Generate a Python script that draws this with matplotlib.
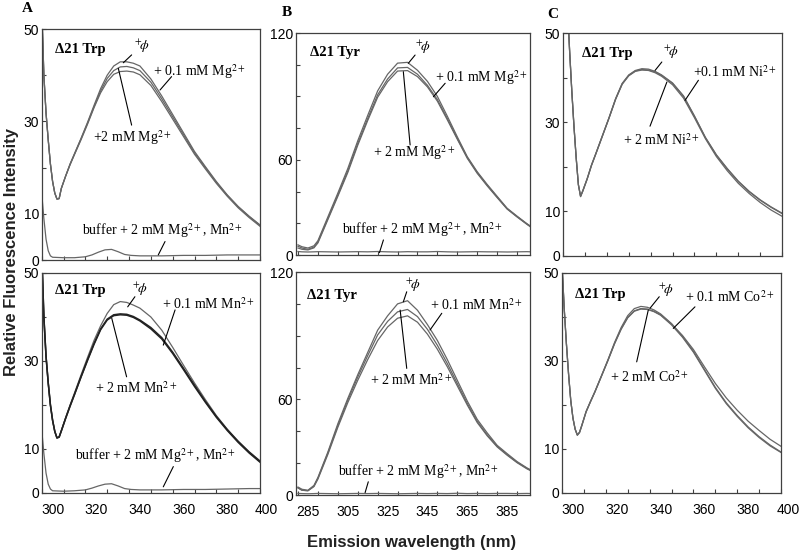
import numpy as np
import matplotlib
matplotlib.use("Agg")
import matplotlib.pyplot as plt

plt.rcParams['mathtext.fontset'] = 'stix'
plt.rcParams['font.family'] = ['Liberation Sans', 'DejaVu Sans']

# ---------------- data ----------------
# Trp panels (A, C): wavelength grid, nm
wl_trp = [295, 296, 297, 298, 299, 300, 301, 302, 303, 304, 306, 308, 310, 313, 316, 319,
          322, 325, 328, 331, 334, 337, 340, 345, 350, 355, 360, 365, 370, 375, 380, 385, 390, 395]

# A top: Trp + Mg2+
a1_phi = [55, 40, 31.8, 26, 20.8, 17, 14.5, 13.2, 13.3, 15.5, 18.2, 20.8, 23, 26.3, 29.8, 33.5,
          37.1, 40, 42, 42.9, 42.9, 42.6, 42, 39.2, 35.5, 31.5, 27.5, 23.5, 20.2, 17, 14.1, 11.6, 9.5, 7.6]
a1_mg01 = [55, 40, 31.8, 26, 20.8, 17, 14.5, 13.2, 13.3, 15.5, 18.2, 20.7, 22.9, 26.2, 29.6, 33.2,
           36.6, 39.3, 41, 41.8, 41.9, 41.6, 41, 38.5, 34.9, 31, 27.1, 23.2, 20, 16.8, 14, 11.5, 9.4, 7.5]
a1_mg2 = [55, 40, 31.8, 26, 20.8, 17, 14.5, 13.2, 13.3, 15.5, 18.2, 20.6, 22.8, 26, 29.4, 33,
          36.2, 38.6, 40.2, 40.8, 40.9, 40.7, 40.1, 37.8, 34.3, 30.5, 26.7, 22.9, 19.7, 16.6, 13.8, 11.3, 9.2, 7.3]

# A bottom: Trp + Mn2+
a2_phi = [55, 40, 31, 25, 20, 16.5, 14, 12.6, 12.8, 14.2, 17.2, 20, 22.7, 26.8, 30.8, 34.7,
          38, 40.8, 42.8, 43.5, 43.3, 42.7, 42, 40, 37, 33.1, 29, 25, 21.2, 17.6, 14.5, 11.8, 9.4, 7.3]
a2_mn01 = [55, 40, 31, 25, 20, 16.5, 14, 12.5, 12.7, 14.1, 17, 19.8, 22.4, 26.4, 30.3, 34,
           37.3, 39.5, 40.5, 40.7, 40.6, 40.1, 39.3, 37.6, 35.3, 32, 28.3, 24.5, 20.8, 17.4, 14.4, 11.7, 9.3, 7.2]
a2_mn2 = [55, 40, 31, 25, 20, 16.5, 14, 12.5, 12.7, 14.1, 17, 19.7, 22.3, 26.3, 30.1, 33.8,
          37.1, 39.3, 40.3, 40.5, 40.4, 39.9, 39.1, 37.3, 35, 31.7, 28, 24.2, 20.6, 17.2, 14.2, 11.5, 9.1, 7.0]

# buffer traces in A
wl_buf = [295, 296, 297, 298, 299, 300, 305, 310, 315, 318, 321, 324, 327, 330, 333, 336,
          340, 350, 360, 370, 380, 390, 395]
a1_buf = [14.5, 9, 4.5, 2, 0.9, 0.6, 0.5, 0.5, 0.7, 1.1, 1.7, 2.2, 2.3, 1.8, 1.2, 1.0,
          0.9, 0.9, 1.0, 1.0, 1.1, 1.1, 1.1]
a2_buf = [14.4, 9, 4.5, 2, 0.9, 0.5, 0.4, 0.5, 0.7, 1.1, 1.6, 2.0, 2.1, 1.6, 1.0, 0.8,
          0.7, 0.7, 0.8, 0.8, 0.9, 1.0, 1.0]

# C top: Trp + Ni2+
c1_phi = [80, 68, 56, 46, 37, 29, 22, 16, 13.4, 14.6, 17.3, 20.4, 23, 27, 31, 35.3,
          38.7, 40.6, 41.6, 42, 41.9, 41.4, 40.6, 38.8, 35.9, 31.4, 26.6, 22.7, 19.6, 16.8, 14.5, 12.6, 11.0, 9.6]
c1_ni01 = [80, 68, 56, 46, 37, 29, 22, 16, 13.4, 14.6, 17.3, 20.4, 23, 27, 31, 35.2,
           38.6, 40.5, 41.5, 41.8, 41.7, 41.3, 40.5, 38.7, 35.8, 31.3, 26.5, 22.6, 19.5, 16.7, 14.4, 12.5, 10.9, 9.5]
c1_ni2 = [80, 68, 56, 46, 37, 29, 22, 16, 13.3, 14.5, 17.2, 20.3, 22.9, 26.9, 30.9, 35.1,
          38.5, 40.4, 41.4, 41.7, 41.6, 41.1, 40.3, 38.4, 35.4, 31, 26.3, 22.3, 19.1, 16.3, 14, 12, 10.3, 8.9]

# C bottom: Trp + Co2+
c2_phi = [52, 42, 34, 27, 21, 17, 14.5, 13.2, 13.8, 15.3, 18.5, 20.8, 23, 26.6, 30.3, 34.2,
          37.6, 40.3, 41.9, 42.4, 42.2, 41.6, 40.7, 38.5, 35.6, 32.2, 28.1, 24, 20.5, 17.6, 15, 12.8, 10.9, 9.3]
c2_co01 = [52, 42, 34, 27, 21, 17, 14.5, 13.2, 13.8, 15.3, 18.5, 20.8, 23, 26.6, 30.2, 34,
           37.3, 39.9, 41.4, 41.9, 41.8, 41.3, 40.5, 38.4, 35.8, 32.6, 28.7, 24.9, 21.6, 18.8, 16.3, 14.2, 12.2, 10.6]
c2_co2 = [52, 42, 34, 27, 21, 17, 14.5, 13.1, 13.7, 15.2, 18.4, 20.7, 22.9, 26.5, 30.1, 33.9,
          37.2, 39.8, 41.3, 41.8, 41.7, 41.2, 40.4, 38.2, 35.4, 32, 27.9, 23.8, 20.3, 17.4, 14.8, 12.6, 10.7, 9.2]

# B panels (Tyr)
wl_tyr = [280, 282, 285, 288, 290, 295, 300, 305, 310, 315, 320, 325, 330, 335, 340,
          345, 350, 355, 360, 365, 370, 375, 380, 385, 390, 395, 397]
b1_phi = [6.4, 5.2, 4.4, 5.8, 9, 24, 39, 54.5, 72, 88, 103.5, 114, 121, 121.5, 116.5,
          109.5, 100, 87.5, 74.5, 62, 52.5, 44.5, 37, 29.5, 24.5, 19.7, 18]
b1_mg01 = [5.5, 4.4, 3.6, 5, 8.2, 23, 37.8, 53, 70.3, 86, 101, 111, 118, 118.3, 114,
           107, 98, 86, 73.5, 61.5, 52, 44, 36.5, 29.2, 24.2, 19.5, 17.8]
b1_mg2 = [4.4, 3.6, 3.2, 4.5, 7.6, 22.3, 37, 52, 69.2, 84.8, 99.5, 109.3, 116, 116.3, 112.5,
          106, 97, 85.2, 73, 61, 51.5, 43.6, 36.2, 29, 24, 19.3, 17.5]
b1_buf = [2.2, 2.0, 1.9, 2.0, 2.1, 2.0, 1.9, 2.0, 2.1, 2.0, 2.2, 2.0, 1.9, 2.1, 2.0,
          2.0, 2.2, 2.0, 1.9, 2.0, 2.1, 2.0, 2.0, 1.9, 2.0, 2.1, 2.0]
b2_phi = [5, 3.6, 3, 6, 11, 27, 44.7, 60.6, 75.5, 89.5, 103.5, 112.5, 120, 122, 116,
          107, 97, 85, 72, 59, 47.5, 39, 31.2, 26, 21, 17, 15.7]
b2_mn01 = [4.5, 3, 2.7, 5.5, 10.5, 26.3, 43.5, 59.5, 74, 87.5, 100.5, 109, 115, 116.5, 112,
           104, 94, 82.5, 70, 57.5, 46.3, 37.8, 30.6, 25.4, 20.6, 16.7, 15.4]
b2_mn2 = [4.5, 3, 2.7, 5.3, 10, 25.5, 42.5, 58, 72, 85, 97, 105.5, 111, 112.5, 108.5,
          101, 91.5, 80.5, 68.5, 56.5, 45.5, 37.2, 30.2, 25, 20.3, 16.4, 15.2]
b2_buf = [1.0, 0.9, 0.8, 0.9, 1.0, 0.9, 0.8, 0.9, 1.0, 0.9, 1.0, 0.9, 0.8, 0.9, 1.0,
          0.9, 1.0, 0.9, 1.1, 0.9, 1.0, 0.9, 1.0, 1.0, 0.9, 1.0, 0.9]

GRAY = '#666666'
DARK = '#222222'
FRAME = '#404040'
SERIF = 'Liberation Serif'
LW = 0.9

fig = plt.figure(figsize=(8, 5.51), dpi=100)


def setup(ax, xlim, ylim, yt, ytl, yminor, xminor, xlabels):
    ax.set_xlim(*xlim)
    ax.set_ylim(*ylim)
    ax.set_yticks(yt, ytl)
    ax.set_yticks(yminor, minor=True)
    ax.set_xticks(xminor, [''] * len(xminor))
    for s in ax.spines.values():
        s.set_color(FRAME)
        s.set_linewidth(0.9)
    ax.tick_params(which='both', direction='in', length=3, width=0.8, color=FRAME,
                   labelsize=10, pad=2)
    for i, v in enumerate(xlabels):
        # last label of the 400-ending axes sits right at the figure edge
        dx = -3 if (v == 400) else 0
        ax.annotate(str(v), (v, 0), xycoords=ax.get_xaxis_transform(), xytext=(dx, -7),
                    textcoords='offset points', ha='center', va='top', fontsize=10,
                    annotation_clip=False)


def label(ax, txt, x, y, bold=False, size=10):
    ax.text(x, y, txt, family=SERIF, fontsize=size, ha='left', va='center',
            fontweight='bold' if bold else 'normal')


def leader(ax, p0, p1):
    ax.annotate('', xy=p1, xytext=p0,
                arrowprops=dict(arrowstyle='-', lw=0.8, color='black', shrinkA=0, shrinkB=0))


trp_ticks = [0, 10, 30, 50]
trp_minor = [20, 40]
trp_xminor = list(range(295, 396, 10))
trp_xlab = [300, 320, 340, 360, 380, 400]
tyr_xminor = list(range(280, 397, 10))
tyr_xlab = [285, 305, 325, 345, 365, 385]
tyr_minor = list(range(0, 141, 20))

PHI = r'${}^{+}\!\phi$'

# ---------------- panel A ----------------
axA1 = fig.add_axes([0.0521, 0.5281, 0.2729, 0.4192])
for y in (a1_phi, a1_mg01, a1_mg2):
    axA1.plot(wl_trp, y, color=GRAY, lw=LW)
axA1.plot(wl_buf, a1_buf, color=GRAY, lw=LW)
setup(axA1, (295, 395), (0, 50), trp_ticks, ['0', '10', '30', '50'], trp_minor, trp_xminor, [])
label(axA1, 'Δ21 Trp', 301.1, 45.5, bold=True, size=10.5)
label(axA1, PHI, 337.2, 46.3)
leader(axA1, (336.2, 44.4), (332.4, 42.7))
label(axA1, r'+ 0.1 mM Mg$^{2+}$', 346, 40.7)
leader(axA1, (354.5, 39.7), (349.2, 36.8))
label(axA1, r'+2 mM Mg$^{2+}$', 318.5, 26.4)
leader(axA1, (336.2, 29.2), (330.1, 41.5))
label(axA1, r'buffer + 2 mM Mg$^{2+}$, Mn$^{2+}$', 313.5, 6.3)
leader(axA1, (351.5, 4.0), (348.4, 1.1))

axA2 = fig.add_axes([0.0521, 0.1053, 0.2729, 0.3993])
axA2.plot(wl_trp, a2_phi, color=GRAY, lw=LW)
axA2.plot(wl_trp, a2_mn01, color=DARK, lw=1.1)
axA2.plot(wl_trp, a2_mn2, color=DARK, lw=1.1)
axA2.plot(wl_buf, a2_buf, color=GRAY, lw=LW)
setup(axA2, (295, 395), (0, 50), trp_ticks, ['0', '10', '30', '50'], trp_minor, trp_xminor, trp_xlab)
label(axA2, 'Δ21 Trp', 301.1, 46.1, bold=True, size=10.5)
label(axA2, PHI, 336.4, 46.3)
leader(axA2, (337.7, 44.6), (334.4, 42.3))
label(axA2, r'+ 0.1 mM Mn$^{2+}$', 350.1, 43)
leader(axA2, (356.1, 41.6), (350.7, 33.6))
label(axA2, r'+ 2 mM Mn$^{2+}$', 319.4, 23.9)
leader(axA2, (333.9, 26.4), (327.1, 39.7))
label(axA2, r'buffer + 2 mM Mg$^{2+}$, Mn$^{2+}$', 310.3, 8.6)
leader(axA2, (355.3, 6.0), (350.7, 1.4))

# ---------------- panel B ----------------
axB1 = fig.add_axes([0.37, 0.5372, 0.2925, 0.4029])
for y in (b1_phi, b1_mg01, b1_mg2):
    axB1.plot(wl_tyr, y, color=GRAY, lw=LW)
axB1.plot(wl_tyr, b1_buf, color=GRAY, lw=LW)
setup(axB1, (279, 396.5), (0, 140), [0, 60, 140], ['0', '60', '120'], tyr_minor, tyr_xminor, [])
label(axB1, 'Δ21 Tyr', 286, 127.4, bold=True, size=10.5)
label(axB1, PHI, 338.8, 131)
leader(axB1, (338.8, 126.1), (335.4, 120.9))
label(axB1, r'+ 0.1 mM Mg$^{2+}$', 348.8, 111.6)
leader(axB1, (353.9, 108.3), (348, 99.8))
label(axB1, r'+ 2 mM Mg$^{2+}$', 317.7, 64.3)
leader(axB1, (336.3, 69.4), (332.9, 115.6))
label(axB1, r'buffer + 2 mM Mg$^{2+}$, Mn$^{2+}$', 302.1, 15.8)
leader(axB1, (322.9, 9.5), (320.9, 1.5))

axB2 = fig.add_axes([0.37, 0.1016, 0.2925, 0.4047])
for y in (b2_phi, b2_mn01, b2_mn2):
    axB2.plot(wl_tyr, y, color=GRAY, lw=LW)
axB2.plot(wl_tyr, b2_buf, color=GRAY, lw=LW)
setup(axB2, (279, 396.5), (0, 140), [0, 60, 140], ['0', '60', '120'], tyr_minor, tyr_xminor, tyr_xlab)
label(axB2, 'Δ21 Tyr', 284.5, 125.5, bold=True, size=10.5)
label(axB2, PHI, 333.8, 132)
leader(axB2, (334.6, 127.6), (332.9, 121.3))
label(axB2, r'+ 0.1 mM Mn$^{2+}$', 346.3, 119.3)
leader(axB2, (352.2, 114.1), (346.3, 103.6))
label(axB2, r'+ 2 mM Mn$^{2+}$', 316.2, 72.2)
leader(axB2, (334.6, 79.5), (331.3, 116.1))
label(axB2, r'buffer + 2 mM Mg$^{2+}$, Mn$^{2+}$', 300.1, 14.4)
leader(axB2, (315.3, 8.3), (313.7, 1.5))

# ---------------- panel C ----------------
axC1 = fig.add_axes([0.7038, 0.5354, 0.2738, 0.4047])
for y in (c1_phi, c1_ni01, c1_ni2):
    axC1.plot(wl_trp, y, color=GRAY, lw=LW)
setup(axC1, (295, 395), (0, 50), trp_ticks, ['0', '10', '30', '50'], trp_minor, trp_xminor, [])
label(axC1, 'Δ21 Trp', 303.7, 45.4, bold=True, size=10.5)
label(axC1, PHI, 340.7, 45.6)
leader(axC1, (340.1, 43.5), (337, 41.6))
label(axC1, r'+0.1 mM Ni$^{2+}$', 354.4, 41.2)
leader(axC1, (356.8, 39.4), (350.7, 34.9))
label(axC1, r'+ 2 mM Ni$^{2+}$', 322.4, 26)
leader(axC1, (334.7, 29.1), (342.4, 39))

axC2 = fig.add_axes([0.7025, 0.1053, 0.2738, 0.3993])
for y in (c2_phi, c2_co01, c2_co2):
    axC2.plot(wl_trp, y, color=GRAY, lw=LW)
setup(axC2, (295, 395), (0, 50), trp_ticks, ['0', '10', '30', '50'], trp_minor, trp_xminor, trp_xlab)
label(axC2, 'Δ21 Trp', 300.9, 45, bold=True, size=10.5)
label(axC2, PHI, 338.8, 46.1)
leader(axC2, (339.4, 44.6), (335.2, 42))
label(axC2, r'+ 0.1 mM Co$^{2+}$', 351.2, 44.5)
leader(axC2, (355.7, 42.3), (345.8, 37.4))
label(axC2, r'+ 2 mM Co$^{2+}$', 316.9, 26.4)
leader(axC2, (329.1, 29.8), (334.4, 41.6))

# panel letters and shared axis titles
for letter, x, y in (('A', 22, 8), ('B', 282, 13), ('C', 547, 14)):
    fig.text(x / 800, 1 - y / 551, letter, family=SERIF, fontweight='bold', fontsize=11,
             ha='left', va='center')
fig.text(12 / 800, 1 - 252 / 551, 'Relative Fluorescence Intensity', rotation=90,
         fontweight='bold', fontsize=12, ha='center', va='center', color='#222222')
fig.text(412 / 800, 1 - 542 / 551, 'Emission wavelength (nm)', fontweight='bold',
         fontsize=12, ha='center', va='center', color='#222222')

fig.savefig('out.png', dpi=100)
